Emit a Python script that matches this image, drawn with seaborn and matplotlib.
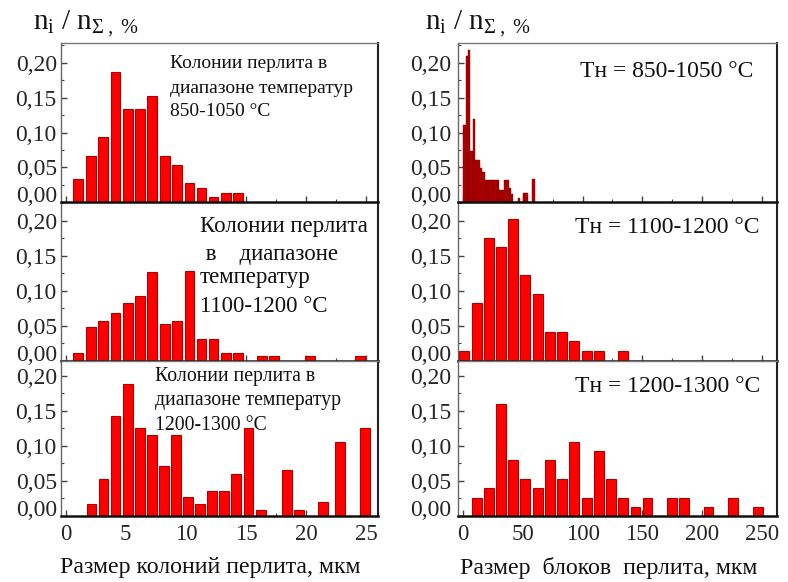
import matplotlib
matplotlib.use("Agg")
import matplotlib.pyplot as plt
import seaborn as sns
from matplotlib.ticker import MultipleLocator, FuncFormatter

# --- data ----------------------------------------------------------------
# left column: pearlite colonies, size in um
col_x_850 = [1.05, 2.1, 3.1, 4.15, 5.2, 6.2, 7.2, 8.25, 9.25, 10.3, 11.3, 12.3, 13.3, 14.3]
col_y_850 = [0.033, 0.067, 0.094, 0.187, 0.134, 0.134, 0.153, 0.067, 0.053, 0.027,
             0.020, 0.007, 0.013, 0.013]

col_x_1100 = [1.05, 2.1, 3.1, 4.15, 5.2, 6.2, 7.2, 8.25, 9.25, 10.3, 11.3, 12.3, 13.3, 14.3,
              16.3, 17.3, 20.3, 24.45]
col_y_1100 = [0.011, 0.048, 0.057, 0.068, 0.083, 0.093, 0.127, 0.052, 0.057, 0.128,
              0.031, 0.031, 0.011, 0.011, 0.007, 0.007, 0.007, 0.007]

col_x_1200 = [2.15, 3.15, 4.15, 5.2, 6.2, 7.2, 8.2, 9.2, 10.2, 11.2, 12.2, 13.2, 14.2,
              15.2, 16.25, 18.4, 19.4, 21.4, 22.8, 24.9]
col_y_1200 = [0.017, 0.053, 0.143, 0.189, 0.125, 0.116, 0.071, 0.116, 0.026, 0.017,
              0.035, 0.035, 0.060, 0.126, 0.008, 0.065, 0.008, 0.019, 0.106, 0.125]

# right column: pearlite blocks, size in um
blk_x_850 = [1, 3, 5, 7, 9, 11, 13, 15, 17, 19, 21, 23, 25, 27, 29,
             31, 33, 35, 37, 39, 41, 43, 45, 47, 49, 51, 53, 55, 57, 59]
blk_y_850 = [0.111, 0.210, 0.218, 0.073, 0.119, 0.060, 0.060, 0.049, 0.044, 0.032,
             0.032, 0.032, 0.032, 0.032, 0.032, 0.018, 0.018, 0.032, 0.032, 0.021,
             0.012, 0.0, 0.0, 0.006, 0.0, 0.013, 0.013, 0.0, 0.0, 0.034]

blk_x_1100 = [1, 11.3, 21.6, 31.7, 42, 52, 62.4, 72.7, 82.8, 93.1, 103.5, 113.5, 133.9]
blk_y_1100 = [0.0146, 0.082, 0.175, 0.162, 0.202, 0.122, 0.095, 0.042, 0.042, 0.029,
              0.0146, 0.0146, 0.0146]

blk_x_1200 = [11.3, 21.6, 31.7, 42, 52, 62.4, 72.7, 82.8, 93.1, 103.5, 113.5, 123.8,
              133.9, 144.2, 154.3, 175, 185, 205.4, 225.8, 246.5]
blk_y_1200 = [0.025, 0.039, 0.160, 0.080, 0.052, 0.039, 0.080, 0.052, 0.106, 0.025,
              0.093, 0.052, 0.025, 0.012, 0.025, 0.025, 0.025, 0.012, 0.025, 0.012]

left_notes = [
    ["Колонии перлита в", "диапазоне температур", "850-1050 °C"],
    ["Колонии перлита", " в    диапазоне", "температур", "1100-1200 °C"],
    ["Колонии перлита в", "диапазоне температур", "1200-1300 °C"],
]
right_notes = ["Тн = 850-1050 °C", "Тн = 1100-1200 °C", "Тн = 1200-1300 °C"]

y_label = r"$\mathrm{n_i\ /\ n_{\Sigma\ ,\ \%}}$"
x_label_left = "Размер колоний перлита, мкм"
x_label_right = "Размер  блоков  перлита, мкм"

# --- style ----------------------------------------------------------------
sns.set_style("ticks")
plt.rcParams["font.family"] = ["Liberation Serif", "DejaVu Serif"]
plt.rcParams["mathtext.fontset"] = "custom"
plt.rcParams["mathtext.rm"] = "Liberation Serif"
plt.rcParams["mathtext.it"] = "Liberation Serif:italic"

W, H = 788, 582
fig = plt.figure(figsize=(W / 100, H / 100), dpi=100)


def fx(x):
    return x / W


def fy(y):
    return 1 - y / H


rows = [(43.3, 202.3, 0.2278), (202.3, 361.0, 0.226), (361.0, 515.5, 0.2215)]
cols = [(61, 378), (458, 777)]

comma = FuncFormatter(lambda v, p: f"{v:.2f}".replace(".", ","))
intfmt = FuncFormatter(lambda v, p: f"{v:.0f}")

data = [
    [(col_x_850, col_y_850), (col_x_1100, col_y_1100), (col_x_1200, col_y_1200)],
    [(blk_x_850, blk_y_850), (blk_x_1100, blk_y_1100), (blk_x_1200, blk_y_1200)],
]

for c, (x0, x1) in enumerate(cols):
    for r, (ytop, ybot, ymax) in enumerate(rows):
        ax = fig.add_axes([fx(x0), fy(ybot), fx(x1 - x0), (ybot - ytop) / H])
        xs, ys = data[c][r]
        if c == 1 and r == 0:
            fill, edge, lw, wd = "#b20000", "#700000", 0.3, 1.0
        else:
            fill, edge, lw, wd = "#ff0000", "#b00000", 0.8, 0.82
        sns.barplot(x=xs, y=ys, native_scale=True, orient="x", width=wd,
                    color=fill, saturation=1, edgecolor=edge, linewidth=lw,
                    errorbar=None, ax=ax)
        ax.set_ylim(0, ymax)
        if c == 0:
            ax.set_xlim(-0.38, 25.97)
            ax.xaxis.set_major_locator(MultipleLocator(5))
            ax.xaxis.set_minor_locator(MultipleLocator(2.5))
        else:
            ax.set_xlim(-4.3, 262.7)
            ax.xaxis.set_major_locator(MultipleLocator(50))
            ax.xaxis.set_minor_locator(MultipleLocator(25))
        ax.yaxis.set_major_locator(MultipleLocator(0.05))
        ax.yaxis.set_minor_locator(MultipleLocator(0.025))
        ax.yaxis.set_major_formatter(comma)
        ax.xaxis.set_major_formatter(intfmt)
        ax.tick_params(axis="both", which="both", direction="in", color="#444",
                       top=False, right=False)
        ax.tick_params(axis="both", which="major", length=4, width=1)
        ax.tick_params(axis="both", which="minor", length=2.5, width=0.8)
        ax.tick_params(axis="y", labelsize=17, pad=3 if c == 0 else 5)
        ax.tick_params(axis="x", labelsize=16.5, pad=6, labelbottom=(r == 2))
        ax.set_xlabel("")
        ax.set_ylabel("")
        # lift the "0,00" label so it clears the next panel's "0,20"
        fig.canvas.draw()
        for lab in ax.get_yticklabels():
            if lab.get_text() == "0,00":
                lab.set_verticalalignment("baseline")
        ax.spines["top"].set_color("#777")
        ax.spines["top"].set_linewidth(1)
        ax.spines["left"].set_color("#666")
        ax.spines["left"].set_linewidth(1)
        ax.spines["right"].set_color("#222")
        ax.spines["right"].set_linewidth(1.5)
        ax.spines["bottom"].set_color("#111")
        ax.spines["bottom"].set_linewidth(1.8)
        ax.set_zorder(2 if r == 0 else 1)

# annotations, left column (baselines in px)
left_pos = [(170, [68.3, 92.7, 115.5], 14),
            (200, [231.7, 260, 283.3, 311.7], 16.5),
            (155, [380.7, 405, 430], 14.2)]
for lines, (xl, bases, fs) in zip(left_notes, left_pos):
    for line, yb in zip(lines, bases):
        fig.text(fx(xl), fy(yb), line, fontsize=fs, ha="left", va="baseline",
                 color="#111", zorder=5)

right_pos = [(580, 77.3), (575, 233.3), (575, 391.7)]
for note, (xl, yb) in zip(right_notes, right_pos):
    fig.text(fx(xl), fy(yb), note, fontsize=17, ha="left", va="baseline",
             color="#111", zorder=5)

# axis titles
fig.text(fx(33), fy(29), y_label, fontsize=21, ha="left", va="baseline", color="#111")
fig.text(fx(425), fy(29), y_label, fontsize=21, ha="left", va="baseline", color="#111")
fig.text(fx(210), fy(568), x_label_left, fontsize=17.2, ha="center", va="center", color="#111")
fig.text(fx(609), fy(568), x_label_right, fontsize=17.2, ha="center", va="center", color="#111")

fig.savefig("out.png", dpi=100)
